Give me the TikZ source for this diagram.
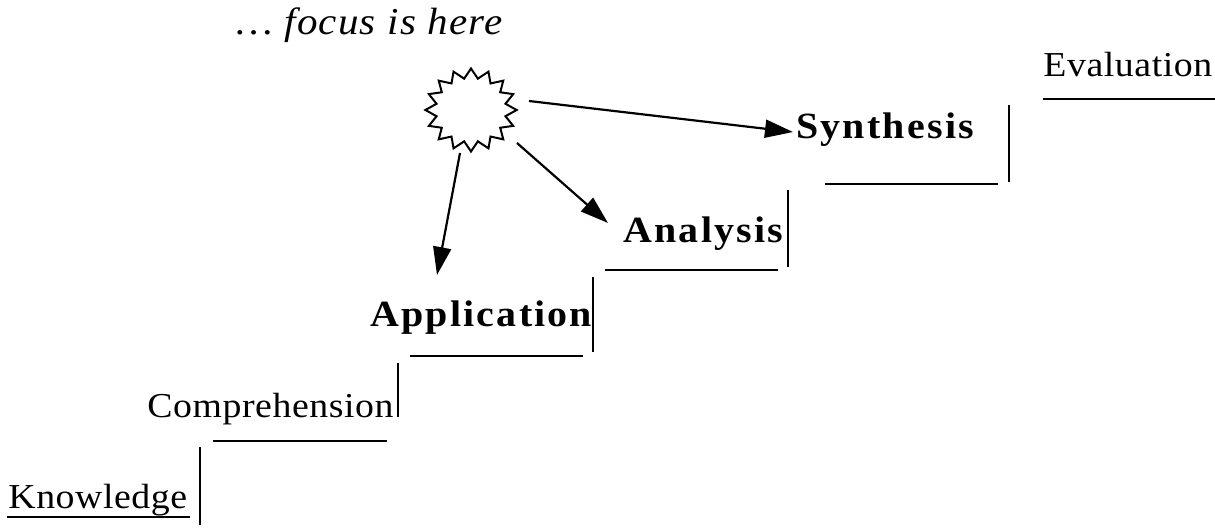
\documentclass[tikz,border=0pt]{standalone}
\usepackage{fontspec}
\setmainfont{Liberation Serif}
\newfontfamily\stepreg[LetterSpace=1.5]{Liberation Serif}
\newfontfamily\stepbld[LetterSpace=5.5]{Liberation Serif}
\newfontfamily\stepita[LetterSpace=3]{Liberation Serif}
\usetikzlibrary{shapes.geometric,arrows.meta,calc}
\tikzset{
  txt/.style={inner sep=0pt, anchor=base west, xscale=1.08, transform shape},
  lvl/.style={txt, font=\stepreg\fontsize{17.5}{21}\selectfont},
  lvlb/.style={txt, font=\stepbld\bfseries\fontsize{18.5}{22}\selectfont},
  stair/.style={line width=1.2pt},
  arr/.style={line width=1.1pt, -{Triangle[length=14pt,width=9pt]}},
}
\begin{document}
\begin{tikzpicture}[x=0.5pt,y=-0.5pt]
\useasboundingbox (0,0) rectangle (1215,529);
% texts
\node[lvl] (know) at (8,508) {Knowledge};
\node[lvl] (comp) at (147,417) {Comprehension};
\node[lvlb] (app) at (370,327) {Application};
\node[lvlb] (ana) at (623,243) {Analysis};
\node[lvlb] (syn) at (796,139) {Synthesis};
\node[lvl] (eval) at (1043,77) {Evaluation};
\node[txt, font=\stepita\itshape\fontsize{19}{23}\selectfont] (focus) at (236,35) {\dots\ focus is here};
% starburst
\node[star, star points=16, star point ratio=1.3, draw, line width=1pt,
      minimum size=41.5pt, inner sep=0pt, xscale=1.1, transform shape] (burst) at (471,110) {};
% stairs
\draw[stair] (7,517) -- (190,517);
\draw[stair] (200,447) -- (200,525);
\draw[stair] (213,441) -- (387,441);
\draw[stair] (398,363) -- (398,417);
\draw[stair] (410,356) -- (583,356);
\draw[stair] (593,277) -- (593,352);
\draw[stair] (605,270) -- (778,270);
\draw[stair] (788,190) -- (788,267);
\draw[stair] (825,184) -- (998,184);
\draw[stair] (1009,105) -- (1009,182);
\draw[stair] (1043,99) -- (1215,99);
% arrows
\draw[arr] ($(burst.center)+(58,-9)$) -- ($(syn.base west)+(-3,-7)$);
\draw[arr] ($(burst.center)+(46,33)$) -- ($(ana.base west)+(-15,-20)$);
\draw[arr] ($(burst.center)+(-11,43)$) -- ($(app.base west)+(67,-52)$);
\end{tikzpicture}
\end{document}
